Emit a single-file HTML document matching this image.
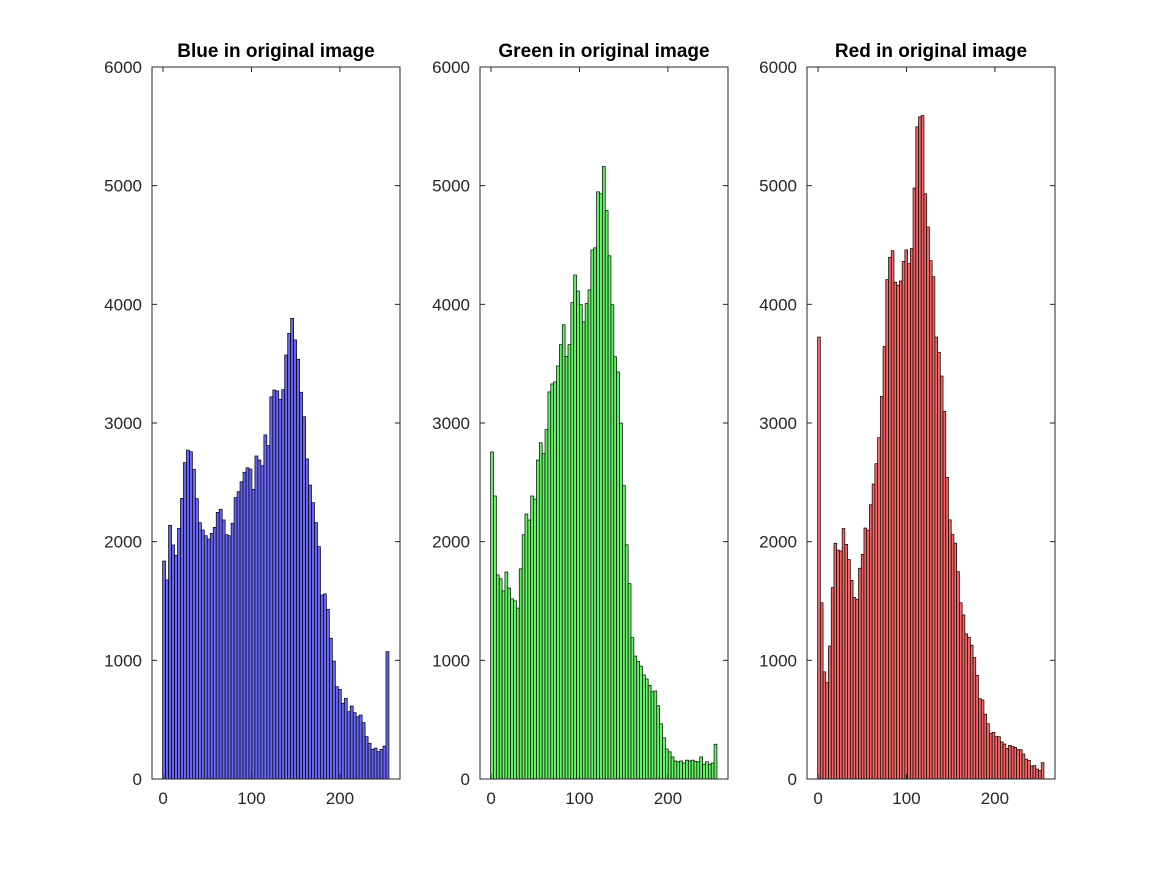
<!DOCTYPE html>
<html><head><meta charset="utf-8"><style>
html,body{margin:0;padding:0;background:#fff;}
svg{display:block;font-family:"Liberation Sans",Arial,sans-serif;}
</style></head><body>
<svg id="fig" width="1167" height="875" viewBox="0 0 1167 875"></svg>
<script>
const yTicks=[0,1000,2000,3000,4000,5000,6000];
const xTicks=[0,100,200];
const titles=["Blue in original image","Green in original image","Red in original image"];
const blueCounts=[1837,1677,2138,1972,1885,2112,2365,2666,2772,2758,2610,2362,2160,2098,2050,2022,2070,2121,2247,2273,2183,2059,2050,2155,2371,2421,2505,2585,2623,2612,2441,2722,2688,2640,2900,2810,3220,3278,3270,3200,3281,3573,3756,3882,3700,3537,3259,3053,2697,2477,2329,2160,1958,1550,1560,1430,1186,994,778,756,638,680,567,615,559,525,539,475,357,301,250,260,230,250,278,1073];
const greenCounts=[2756,2385,1720,1687,1585,1744,1609,1518,1501,1440,1771,2058,2233,2182,2385,2358,2688,2833,2742,2945,3262,3329,3346,3481,3660,3828,3562,3660,4014,4247,4112,3997,3852,4007,4122,4459,4476,4948,4931,5161,4790,4409,3997,3558,3430,2999,2472,1973,1646,1191,1036,990,951,877,843,790,735,742,617,465,347,253,229,186,152,145,152,135,159,152,159,150,145,186,125,145,125,135,293];
const redCounts=[3724,1485,903,812,1121,1613,1987,1929,1922,2111,1977,1849,1674,1529,1514,1776,1893,2115,2097,2311,2486,2657,2876,3225,3644,4208,4397,4452,4186,4161,4197,4361,4459,4343,4470,4980,5496,5580,5591,4932,4652,4368,4233,3724,3596,3396,3098,2541,2184,2060,1987,1747,1485,1383,1223,1194,1128,1023,874,677,666,546,466,386,393,357,357,313,295,258,284,273,266,248,248,211,167,157,109,113,84,73,138];
const NS="http://www.w3.org/2000/svg";
const svgEl=document.getElementById('fig');
function mk(tag,attrs,parent){const e=document.createElementNS(NS,tag);for(const k in attrs)e.setAttribute(k,attrs[k]);(parent||svgEl).appendChild(e);return e;}
const panels=[{left:152,counts:blueCounts,fill:"#6666f2",name:"blue"},{left:480,counts:greenCounts,fill:"#66f266",name:"green"},{left:807,counts:redCounts,fill:"#f26666",name:"red"}];
const AW=248,axTop=67,axBottom=779,xmin=-12.5,xmax=268,ymax=6000;
panels.forEach((p,pi)=>{
  const g=mk('g',{});
  
  
  const sx=v=>p.left+(v-xmin)/(xmax-xmin)*AW;
  const sy=v=>axBottom-v/ymax*(axBottom-axTop);
  const n=p.counts.length,w=256/n;
  p.counts.forEach((c,i)=>{
    const x0=sx(-0.5+i*w),x1=sx(-0.5+(i+1)*w);
    const r=mk('rect',{x:x0,y:sy(c),width:x1-x0,height:axBottom-sy(c),fill:p.fill,stroke:"#000","stroke-width":0.7},g);
    
    
  });
  const box=mk('rect',{x:p.left,y:axTop,width:AW,height:axBottom-axTop,fill:"none",stroke:"#262626","stroke-width":1},g);
  
  
  yTicks.forEach(t=>{
    const y=sy(t);
    mk('line',{x1:p.left,x2:p.left+5,y1:y,y2:y,stroke:"#262626"},g);
    mk('line',{x1:p.left+AW,x2:p.left+AW-5,y1:y,y2:y,stroke:"#262626"},g);
    const tx=mk('text',{x:p.left-10,y:y+6,"text-anchor":"end","font-size":17,fill:"#262626"},g);
    tx.textContent=t;
    
    
  });
  xTicks.forEach(t=>{
    const x=sx(t);
    mk('line',{x1:x,x2:x,y1:axBottom,y2:axBottom-5,stroke:"#262626"},g);
    mk('line',{x1:x,x2:x,y1:axTop,y2:axTop+5,stroke:"#262626"},g);
    const tx=mk('text',{x:x,y:axBottom+25,"text-anchor":"middle","font-size":17,fill:"#262626"},g);
    tx.textContent=t;
    
    
  });
  const ti=mk('text',{x:p.left+AW/2,y:57,"text-anchor":"middle","font-size":19,"font-weight":"bold",fill:"#000"},g);
  ti.textContent=titles[pi];
  
  
});
</script>
</body></html>
